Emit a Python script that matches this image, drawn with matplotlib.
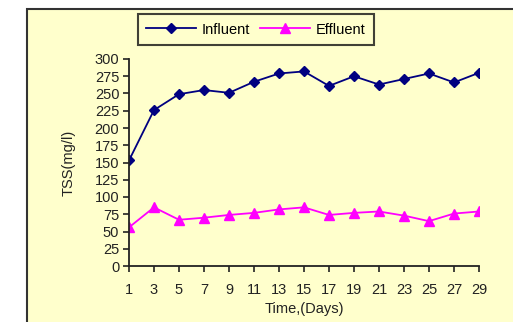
import matplotlib.pyplot as plt
from matplotlib.patches import Rectangle

days = [1, 3, 5, 7, 9, 11, 13, 15, 17, 19, 21, 23, 25, 27, 29]
influent = [153, 226, 249, 255, 251, 267, 279, 282, 261, 275, 263, 271, 279, 266, 280]
effluent = [56, 85, 67, 70, 74, 77, 82, 85, 74, 77, 79, 73, 65, 76, 79]
yticks = list(range(0, 301, 25))

plt.rcParams['font.family'] = ['Liberation Sans', 'DejaVu Sans']

fig = plt.figure(figsize=(5.13, 3.22), dpi=100)
fig.patch.set_facecolor('white')

# pale yellow chart area with dark border, behind everything
bg = fig.add_axes([0, 0, 1, 1], zorder=-1)
bg.axis('off')
bg.set_xlim(0, 1)
bg.set_ylim(0, 1)
bg.add_patch(Rectangle((27 / 513, -0.05), 1.0, 1 - 9 / 322 + 0.05,
                       facecolor='#FFFFCC', edgecolor='#333333', linewidth=1.5))

ax = fig.add_axes([129 / 513, 1 - 266 / 322, 350 / 513, 207 / 322])
ax.set_facecolor('none')

ax.plot(days, influent, color='#000080', marker='D', markersize=5.5, linewidth=1.3, label='Influent')
ax.plot(days, effluent, color='#FF00FF', marker='^', markersize=7, linewidth=1.3, label='Effluent')

ax.set_xlim(1, 29)
ax.set_ylim(0, 300)
ax.set_xticks(days)
ax.set_yticks(yticks)
ax.tick_params(axis='both', direction='out', length=4, width=1.2, labelsize=10.5, colors='#222222')
ax.tick_params(axis='x', pad=8)
ax.tick_params(axis='y', pad=3)
for s in ['top', 'right']:
    ax.spines[s].set_visible(False)
for s in ['left', 'bottom']:
    ax.spines[s].set_linewidth(1.3)
    ax.spines[s].set_color('#222222')

ax.set_ylabel('TSS(mg/l)', fontsize=10.5, labelpad=14, color='#222222')
ax.set_xlabel('Time,(Days)', fontsize=10.5, labelpad=4, color='#222222')

leg = ax.legend(loc='center', bbox_to_anchor=(256 / 513, 1 - 29.5 / 322), bbox_transform=fig.transFigure,
                ncol=2, frameon=True, fancybox=False, fontsize=10.5, handlelength=3.4,
                columnspacing=0.7, borderpad=0.55, handletextpad=0.4)
leg.get_frame().set_edgecolor('#111111')
leg.get_frame().set_facecolor('#FFFFCC')
leg.get_frame().set_linewidth(1.5)

fig.savefig('out.png', dpi=100)
